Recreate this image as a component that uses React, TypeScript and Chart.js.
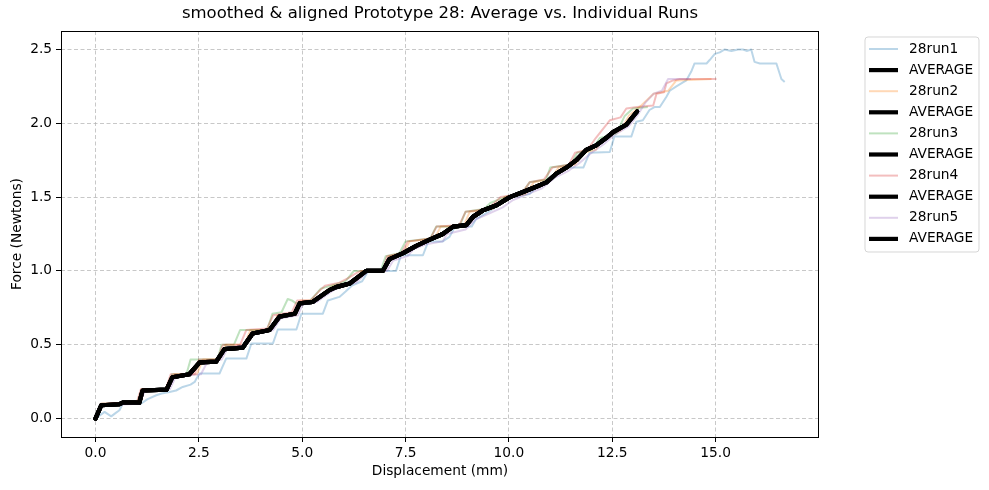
import { useEffect, useRef } from "react";
import { Chart, registerables } from "chart.js";

Chart.register(...registerables);

const chartTitle = "smoothed & aligned Prototype 28: Average vs. Individual Runs";
const xAxisTitle = "Displacement (mm)";
const yAxisTitle = "Force (Newtons)";

const xTickValues = [0, 2.5, 5, 7.5, 10, 12.5, 15];
const yTickValues = [0, 0.5, 1, 1.5, 2, 2.5];

const run1: number[][] = [
  [0, 0], [0.05, 0.01], [0.22, 0.045], [0.38, 0.015], [0.5, 0.04], [0.58, 0.056], [0.66, 0.1], [1.1, 0.1],
  [1.25, 0.13], [1.47, 0.158], [1.6, 0.17], [1.79, 0.18], [1.95, 0.19], [2.11, 0.214], [2.3, 0.23], [2.4, 0.248],
  [2.44, 0.27], [2.52, 0.305], [3.0, 0.305], [3.16, 0.406], [3.65, 0.406], [3.77, 0.508], [4.29, 0.508],
  [4.41, 0.603], [4.86, 0.603], [4.98, 0.71], [5.5, 0.71], [5.62, 0.8], [5.9, 0.824], [6.05, 0.86], [6.2, 0.9],
  [6.45, 0.93], [6.6, 1.0], [7.27, 1.0], [7.39, 1.106], [7.92, 1.106], [8.05, 1.2], [8.4, 1.2], [8.56, 1.23],
  [8.7, 1.3], [9.1, 1.3], [9.2, 1.35], [9.5, 1.4], [9.94, 1.48], [10.1, 1.5], [10.5, 1.52], [10.8, 1.6],
  [11.15, 1.65], [11.4, 1.7], [11.8, 1.7], [11.95, 1.8], [12.44, 1.806], [12.55, 1.91], [12.96, 1.91],
  [13.08, 2.01], [13.24, 2.02], [13.4, 2.09], [13.52, 2.11], [13.65, 2.11], [13.81, 2.18], [13.89, 2.22],
  [14.05, 2.25], [14.29, 2.29], [14.41, 2.35], [14.49, 2.405], [14.78, 2.405], [14.86, 2.43], [14.98, 2.47],
  [15.1, 2.48], [15.22, 2.5], [15.38, 2.49], [15.54, 2.5], [15.66, 2.5], [15.75, 2.49], [15.86, 2.5],
  [15.94, 2.416], [16.07, 2.405], [16.47, 2.405], [16.59, 2.3], [16.67, 2.28],
];

const run2: number[][] = [
  [0, 0], [0.15, 0.1], [1.0, 0.1], [1.15, 0.2], [1.75, 0.2], [1.9, 0.3], [2.45, 0.3], [2.6, 0.4], [3.0, 0.4],
  [3.15, 0.5], [3.6, 0.5], [3.75, 0.6], [4.25, 0.6], [4.4, 0.7], [4.85, 0.7], [4.95, 0.8], [5.3, 0.8],
  [5.5, 0.85], [5.75, 0.9], [6.2, 0.92], [6.45, 1.0], [7.0, 1.0], [7.1, 1.1], [7.45, 1.12], [7.6, 1.2],
  [8.2, 1.22], [8.35, 1.3], [8.9, 1.3], [9.05, 1.4], [9.6, 1.42], [9.9, 1.5], [10.4, 1.52], [10.6, 1.6],
  [11.0, 1.62], [11.2, 1.7], [11.6, 1.72], [11.8, 1.8], [12.1, 1.82], [12.3, 1.9], [12.7, 1.95], [12.9, 2.05],
  [13.2, 2.12], [13.5, 2.2], [13.85, 2.22], [14.05, 2.29], [14.9, 2.3],
];

const run3: number[][] = [
  [0, 0], [0.15, 0.1], [1.0, 0.1], [1.12, 0.2], [1.7, 0.2], [1.85, 0.3], [2.2, 0.3], [2.3, 0.4], [2.95, 0.4],
  [3.05, 0.5], [3.35, 0.5], [3.5, 0.6], [4.15, 0.6], [4.28, 0.71], [4.5, 0.72], [4.65, 0.81], [4.75, 0.8],
  [4.85, 0.78], [5.2, 0.8], [5.45, 0.88], [5.7, 0.9], [6.05, 0.93], [6.25, 1.0], [6.9, 1.0], [7.02, 1.1],
  [7.35, 1.12], [7.5, 1.2], [8.1, 1.22], [8.24, 1.3], [8.8, 1.3], [8.95, 1.4], [9.4, 1.42], [9.55, 1.46],
  [9.9, 1.5], [10.3, 1.52], [10.5, 1.6], [10.9, 1.62], [11.0, 1.7], [11.5, 1.72], [11.65, 1.8], [12.0, 1.82],
  [12.2, 1.9], [12.6, 1.93], [12.8, 2.05], [13.0, 2.1], [13.36, 2.11],
];

const run4: number[][] = [
  [0, 0], [0.13, 0.1], [1.0, 0.11], [1.1, 0.2], [1.7, 0.2], [1.82, 0.3], [2.4, 0.3], [2.5, 0.4], [2.95, 0.4],
  [3.08, 0.5], [3.5, 0.5], [3.65, 0.6], [4.15, 0.61], [4.3, 0.7], [4.75, 0.72], [4.88, 0.8], [5.2, 0.8],
  [5.4, 0.86], [5.55, 0.9], [5.9, 0.92], [6.1, 0.95], [6.4, 1.0], [6.95, 1.0], [7.05, 1.1], [7.4, 1.12],
  [7.55, 1.2], [8.1, 1.22], [8.25, 1.3], [8.8, 1.31], [8.95, 1.4], [9.5, 1.42], [9.8, 1.5], [10.3, 1.52],
  [10.5, 1.6], [10.85, 1.62], [11.05, 1.7], [11.45, 1.72], [11.6, 1.8], [11.9, 1.82], [12.1, 1.9],
  [12.44, 2.02], [12.7, 2.04], [12.84, 2.1], [13.1, 2.11], [13.49, 2.12], [13.57, 2.2], [13.75, 2.21],
  [13.81, 2.27], [13.97, 2.29], [14.13, 2.3], [15.02, 2.3],
];

const run5: number[][] = [
  [0, 0], [0.16, 0.09], [1.05, 0.1], [1.2, 0.19], [1.8, 0.2], [1.95, 0.29], [2.55, 0.3], [2.7, 0.38],
  [3.05, 0.4], [3.2, 0.48], [3.65, 0.5], [3.82, 0.58], [4.3, 0.6], [4.48, 0.68], [4.9, 0.7], [5.0, 0.77],
  [5.35, 0.79], [5.7, 0.86], [5.95, 0.9], [6.3, 0.92], [6.6, 1.0], [7.05, 1.0], [7.2, 1.07], [7.55, 1.1],
  [7.7, 1.15], [8.0, 1.18], [8.4, 1.2], [8.5, 1.25], [8.95, 1.28], [9.2, 1.35], [9.45, 1.38], [9.85, 1.43],
  [10.1, 1.48], [10.45, 1.52], [10.8, 1.56], [11.1, 1.63], [11.45, 1.68], [11.7, 1.73], [12.0, 1.8],
  [12.3, 1.86], [12.55, 1.92], [12.9, 1.98], [13.1, 2.05], [13.3, 2.14], [13.5, 2.2], [13.7, 2.22],
  [13.85, 2.3], [14.4, 2.3],
];

const average: number[][] = [
  [0, 0], [0.14, 0.09], [0.58, 0.097], [0.66, 0.108], [1.06, 0.108], [1.14, 0.19], [1.72, 0.196],
  [1.86, 0.28], [2.27, 0.3], [2.52, 0.38], [2.92, 0.385], [3.12, 0.47], [3.56, 0.48], [3.8, 0.576],
  [4.21, 0.6], [4.45, 0.69], [4.82, 0.71], [4.94, 0.78], [5.25, 0.79], [5.66, 0.87], [5.82, 0.89],
  [6.15, 0.915], [6.55, 1.0], [6.95, 1.0], [7.11, 1.08], [7.44, 1.12], [7.76, 1.17], [8.07, 1.21],
  [8.4, 1.25], [8.65, 1.3], [8.97, 1.31], [9.13, 1.366], [9.37, 1.41], [9.7, 1.445], [10.02, 1.5],
  [10.34, 1.535], [10.66, 1.57], [10.91, 1.6], [11.15, 1.66], [11.39, 1.7], [11.63, 1.75], [11.87, 1.82],
  [12.11, 1.85], [12.35, 1.9], [12.52, 1.94], [12.84, 1.99], [13.1, 2.08],
];

const runLabels = ["28run1", "28run2", "28run3", "28run4", "28run5"];
const averageLabel = "AVERAGE";
const runColors = [
  "rgba(31,119,180,0.3)",
  "rgba(255,127,14,0.3)",
  "rgba(44,160,44,0.3)",
  "rgba(214,39,40,0.3)",
  "rgba(148,103,189,0.3)",
];

const FONT = "'DejaVu Sans', 'Liberation Sans', sans-serif";

export default function App() {
  const ref = useRef<HTMLCanvasElement>(null);

  useEffect(() => {
    document.body.style.margin = "0";
    const canvas = ref.current;
    if (!canvas) return;
    const runs = [run1, run2, run3, run4, run5];
    const datasets: any[] = [];
    runs.forEach((r, i) => {
      datasets.push({
        label: runLabels[i],
        data: r.map(([x, y]) => ({ x, y })),
        borderColor: runColors[i],
        backgroundColor: runColors[i],
        borderWidth: 2,
        pointRadius: 0,
        tension: 0,
        fill: false,
        borderJoinStyle: "round",
      });
      datasets.push({
        label: averageLabel,
        data: average.map(([x, y]) => ({ x, y })),
        borderColor: "#000000",
        backgroundColor: "#000000",
        borderWidth: 4.2,
        pointRadius: 0,
        tension: 0,
        fill: false,
        borderJoinStyle: "round",
        borderCapStyle: "round",
      });
    });
    datasets.forEach((d, i) => (d.order = datasets.length - i));

    const decor = {
      id: "decor",
      afterDraw(chart: any) {
        const ctx = chart.ctx;
        const a = chart.chartArea;
        ctx.save();
        // frame
        ctx.strokeStyle = "#000";
        ctx.lineWidth = 1;
        ctx.setLineDash([]);
        ctx.strokeRect(Math.round(a.left) + 0.5, Math.round(a.top) + 0.5, Math.round(a.right - a.left) - 1, Math.round(a.bottom - a.top));
        // title
        ctx.fillStyle = "#000";
        ctx.textAlign = "center";
        ctx.textBaseline = "middle";
        ctx.font = `16.5px ${FONT}`;
        ctx.fillText(chartTitle, (a.left + a.right) / 2, 14);
        // axis titles
        ctx.font = `13.75px ${FONT}`;
        ctx.fillText(xAxisTitle, (a.left + a.right) / 2, 471);
        ctx.save();
        ctx.translate(17, (a.top + a.bottom) / 2);
        ctx.rotate(-Math.PI / 2);
        ctx.fillText(yAxisTitle, 0, 0);
        ctx.restore();
        // legend
        const bx = 865, by = 37, bw = 114, bh = 215, r = 3;
        ctx.beginPath();
        ctx.moveTo(bx + r, by);
        ctx.lineTo(bx + bw - r, by);
        ctx.quadraticCurveTo(bx + bw, by, bx + bw, by + r);
        ctx.lineTo(bx + bw, by + bh - r);
        ctx.quadraticCurveTo(bx + bw, by + bh, bx + bw - r, by + bh);
        ctx.lineTo(bx + r, by + bh);
        ctx.quadraticCurveTo(bx, by + bh, bx, by + bh - r);
        ctx.lineTo(bx, by + r);
        ctx.quadraticCurveTo(bx, by, bx + r, by);
        ctx.closePath();
        ctx.fillStyle = "rgba(255,255,255,0.8)";
        ctx.fill();
        ctx.strokeStyle = "rgba(204,204,204,0.8)";
        ctx.lineWidth = 1;
        ctx.stroke();
        ctx.textAlign = "left";
        chart.data.datasets.forEach((d: any, i: number) => {
          const y = 49 + i * 21.1;
          ctx.beginPath();
          ctx.strokeStyle = d.borderColor;
          ctx.lineWidth = d.borderWidth;
          ctx.lineCap = "butt";
          ctx.moveTo(869, y);
          ctx.lineTo(898, y);
          ctx.stroke();
          ctx.fillStyle = "#000";
          ctx.fillText(d.label, 909, y);
        });
        ctx.restore();
      },
    };

    const chart = new Chart(canvas, {
      type: "line",
      data: { datasets },
      options: {
        animation: false,
        responsive: false,
        devicePixelRatio: 1,
        layout: { padding: { left: 0, right: 170, top: 31, bottom: 0 } },
        plugins: {
          legend: { display: false },
          title: { display: false },
          tooltip: { enabled: false },
        },
        scales: {
          x: {
            type: "linear",
            min: -0.834,
            max: 17.5,
            afterBuildTicks: (s: any) => {
              s.ticks = xTickValues.map((v) => ({ value: v }));
            },
            afterFit: (s: any) => {
              s.height = 53;
            },
            ticks: {
              autoSkip: false,
              maxRotation: 0,
              padding: 3,
              color: "#000",
              font: { family: FONT, size: 13.75 },
              callback: (v: any) => Number(v).toFixed(1),
            },
            grid: {
              color: "rgba(176,176,176,0.7)",
              lineWidth: 1,
              tickLength: 5,
              tickColor: "#000",
              tickBorderDash: [],
              tickWidth: 1,
            },
            border: { display: false, dash: [4, 2.5] },
          },
          y: {
            type: "linear",
            min: -0.125,
            max: 2.625,
            afterBuildTicks: (s: any) => {
              s.ticks = yTickValues.map((v) => ({ value: v }));
            },
            afterFit: (s: any) => {
              s.width = 61;
            },
            ticks: {
              autoSkip: false,
              padding: 4,
              color: "#000",
              font: { family: FONT, size: 13.75 },
              callback: (v: any) => Number(v).toFixed(1),
            },
            grid: {
              color: "rgba(176,176,176,0.7)",
              lineWidth: 1,
              tickLength: 5,
              tickColor: "#000",
              tickBorderDash: [],
              tickWidth: 1,
            },
            border: { display: false, dash: [4, 2.5] },
          },
        },
      } as any,
      plugins: [decor],
    });
    return () => chart.destroy();
  }, []);

  return <canvas ref={ref} width={989} height={490} style={{ display: "block" }} />;
}
